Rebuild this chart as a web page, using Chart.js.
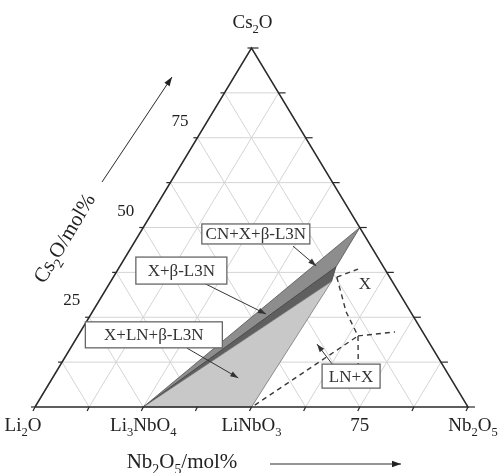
<!doctype html>
<html><head><meta charset="utf-8"><title>Li2O-Nb2O5-Cs2O</title>
<script src="https://cdn.jsdelivr.net/npm/chart.js@4"></script>
<style>body{margin:0;background:#fff}canvas{display:block}</style>
</head>
<body>
<canvas id="c" width="500" height="473"></canvas>
<script>
// composition in mol%: [Nb2O5, Cs2O], Li2O = rest
const gridSteps = [12.5, 25, 37.5, 50, 62.5, 75, 87.5]
const bottomNb = [0, 25, 50, 75, 100]
const bottomLabels = ['Li_2O', 'Li_3NbO_4', 'LiNbO_3', '75', 'Nb_2O_5']
const leftCs = [25, 50, 75]
const leftLabels = ['25', '50', '75']

// phase fields (triangles)
const regionNames = ['CN+X+β-L3N', 'X+β-L3N', 'X+LN+β-L3N']
const regionNb = [[25, 50, 50], [25, 50, 51], [25, 51, 50]]
const regionCs = [[0, 50, 39], [0, 39, 35], [0, 35, 0]]

// dashed boundaries of X field
const xFieldNb = [[51.6, 55.4], [51.6, 58.6, 64.7], [64.7, 72.7], [64.7, 68.8], [50.5, 64.7]]
const xFieldCs = [[36.2, 38.4], [36.2, 26.5, 19.8], [19.8, 20.9], [19.8, 11.7], [0.5, 19.8]]

const SERIF = '"Liberation Serif", "DejaVu Serif", serif'

function toXY(nb, cs) {
  return { x: (nb + cs / 2) / 100, y: cs / 100 }
}

function lineDs(pts, opts) {
  return Object.assign({
    data: pts.map(([nb, cs]) => toXY(nb, cs)),
    showLine: true, pointRadius: 0, borderWidth: 1, borderColor: '#d4d4d4',
    fill: false, clip: false, order: 10
  }, opts)
}

const datasets = []
// grid
for (const g of gridSteps) {
  datasets.push(lineDs([[0, g], [100 - g, g]]))
  datasets.push(lineDs([[g, 0], [g, 100 - g]]))
  datasets.push(lineDs([[100 - g, 0], [0, 100 - g]]))
}
// phase fields
const regionFill = ['#8d8d8d', '#5f5f5f', '#c8c8c8']
const regionLine = ['#555', '#444', '#777']
regionNames.forEach((name, i) => {
  const pts = regionNb[i].map((nb, k) => [nb, regionCs[i][k]])
  pts.push(pts[0])
  datasets.push(lineDs(pts, {
    label: name, backgroundColor: regionFill[i], borderColor: regionLine[i],
    borderWidth: 0.8, fill: 'shape', order: 5 - i
  }))
})
// X field dashes
xFieldNb.forEach((nbs, i) => {
  datasets.push(lineDs(nbs.map((nb, k) => [nb, xFieldCs[i][k]]), {
    borderColor: '#3a3a3a', borderWidth: 1.4, borderDash: [5, 4], order: 1
  }))
})
// triangle frame
datasets.push(lineDs([[0, 0], [100, 0], [0, 100], [0, 0]], {
  borderColor: '#2a2a2a', borderWidth: 1.5, order: 0
}))

// labels (box centre / arrow start / arrow end in composition)
const notes = [
  { text: 'CN+X+β-L3N', at: [26.9, 48.2], w: 108, h: 20, from: [37.2, 44.8], to: [45.3, 39.3] },
  { text: 'X+β-L3N', at: [14.8, 38.0], w: 91, h: 27, from: [22.2, 34.3], to: [40.4, 25.9] },
  { text: 'X+LN+β-L3N', at: [17.4, 20.1], w: 137, h: 26, from: [26.9, 16.4], to: [42.9, 8.1] },
  { text: 'LN+X', at: [68.7, 8.6], w: 58, h: 24, from: [62.6, 12.0], to: [56.4, 17.5] }
]

function richWidth(ctx, str, size) {
  let w = 0
  for (let i = 0; i < str.length; i++) {
    if (str[i] === '_') {
      ctx.font = (size * 0.66) + 'px ' + SERIF
      w += ctx.measureText(str[++i]).width
    } else {
      ctx.font = size + 'px ' + SERIF
      w += ctx.measureText(str[i]).width
    }
  }
  return w
}

function richText(ctx, str, x, y, size, align) {
  const w = richWidth(ctx, str, size)
  let cx = align === 'center' ? x - w / 2 : (align === 'right' ? x - w : x)
  ctx.textBaseline = 'alphabetic'
  ctx.textAlign = 'left'
  for (let i = 0; i < str.length; i++) {
    if (str[i] === '_') {
      ctx.font = (size * 0.66) + 'px ' + SERIF
      const ch = str[++i]
      ctx.fillText(ch, cx, y + size * 0.28)
      cx += ctx.measureText(ch).width
    } else {
      ctx.font = size + 'px ' + SERIF
      ctx.fillText(str[i], cx, y)
      cx += ctx.measureText(str[i]).width
    }
  }
}

function arrow(ctx, x1, y1, x2, y2, head) {
  ctx.beginPath()
  ctx.moveTo(x1, y1)
  ctx.lineTo(x2, y2)
  ctx.stroke()
  const a = Math.atan2(y2 - y1, x2 - x1)
  ctx.beginPath()
  ctx.moveTo(x2, y2)
  ctx.lineTo(x2 - head * Math.cos(a) + head * 0.35 * Math.sin(a), y2 - head * Math.sin(a) - head * 0.35 * Math.cos(a))
  ctx.lineTo(x2 - head * Math.cos(a) - head * 0.35 * Math.sin(a), y2 - head * Math.sin(a) + head * 0.35 * Math.cos(a))
  ctx.closePath()
  ctx.fill()
}

const ternaryDecor = {
  id: 'ternaryDecor',
  afterDatasetsDraw(chart) {
    const ctx = chart.ctx
    const px = (nb, cs) => {
      const t = toXY(nb, cs)
      return [chart.scales.x.getPixelForValue(t.x), chart.scales.y.getPixelForValue(t.y)]
    }
    ctx.save()
    ctx.strokeStyle = '#2a2a2a'
    ctx.fillStyle = '#2a2a2a'
    ctx.lineWidth = 1.2
    // edge ticks
    const ticks = [0].concat(gridSteps, [100])
    for (const g of ticks) {
      let [x, y] = px(g, 0)
      ctx.beginPath(); ctx.moveTo(x, y); ctx.lineTo(x - 2, y + 4); ctx.stroke()
      ;[x, y] = px(0, g)
      ctx.beginPath(); ctx.moveTo(x, y); ctx.lineTo(x - 4, y); ctx.stroke()
      ;[x, y] = px(100 - g, g)
      ctx.beginPath(); ctx.moveTo(x, y); ctx.lineTo(x + 7, y); ctx.stroke()
    }
    // corner & tick labels
    ctx.fillStyle = '#222'
    let [tx, ty] = px(0, 100)
    richText(ctx, 'Cs_2O', tx + 1, ty - 20, 19, 'center')
    bottomNb.forEach((nb, i) => {
      const [x, y] = px(nb, 0)
      const dx = i === 0 ? -12 : (i === 4 ? 5 : 0)
      richText(ctx, bottomLabels[i], x + dx, y + 24, 19, 'center')
    })
    leftCs.forEach((cs, i) => {
      const [x, y] = px(0, cs)
      richText(ctx, leftLabels[i], x - 9, y - 12, 17, 'right')
    })
    // axis titles
    richText(ctx, 'Nb_2O_5/mol%', 182, 468, 21, 'center')
    ctx.save()
    ctx.translate(64, 238)
    ctx.rotate(-59 * Math.PI / 180)
    richText(ctx, 'Cs_2O/mol%', 0, 7, 21, 'center')
    ctx.restore()
    ctx.lineWidth = 1
    arrow(ctx, 270, 464, 401, 464, 9)
    arrow(ctx, 102, 182, 172, 77, 9)

    // X field label
    ;[tx, ty] = px(59.2, 34.0)
    ctx.font = '17px ' + SERIF
    ctx.textAlign = 'center'
    ctx.textBaseline = 'middle'
    ctx.fillStyle = '#333'
    ctx.fillText('X', tx, ty)

    // boxed notes with arrows
    for (const n of notes) {
      const [x1, y1] = px(n.from[0], n.from[1])
      const [x2, y2] = px(n.to[0], n.to[1])
      ctx.strokeStyle = '#333'
      ctx.fillStyle = '#333'
      ctx.lineWidth = 1
      arrow(ctx, x1, y1, x2, y2, 8)
      const [cx, cy] = px(n.at[0], n.at[1])
      ctx.fillStyle = '#fff'
      ctx.fillRect(cx - n.w / 2, cy - n.h / 2, n.w, n.h)
      ctx.strokeStyle = '#666'
      ctx.lineWidth = 1.3
      ctx.strokeRect(cx - n.w / 2, cy - n.h / 2, n.w, n.h)
      ctx.fillStyle = '#333'
      ctx.font = '17px ' + SERIF
      ctx.textAlign = 'center'
      ctx.textBaseline = 'middle'
      ctx.fillText(n.text, cx, cy + 1)
    }
    ctx.restore()
  }
}

new Chart(document.getElementById('c').getContext('2d'), {
  type: 'scatter',
  data: { datasets },
  options: {
    responsive: false,
    animation: false,
    devicePixelRatio: 1,
    layout: { padding: { left: 35, right: 32, top: 48, bottom: 66 } },
    plugins: { legend: { display: false }, tooltip: { enabled: false } },
    scales: {
      x: { type: 'linear', min: 0, max: 1, display: false },
      y: { type: 'linear', min: 0, max: 1, display: false }
    }
  },
  plugins: [ternaryDecor]
})
</script>
</body></html>
